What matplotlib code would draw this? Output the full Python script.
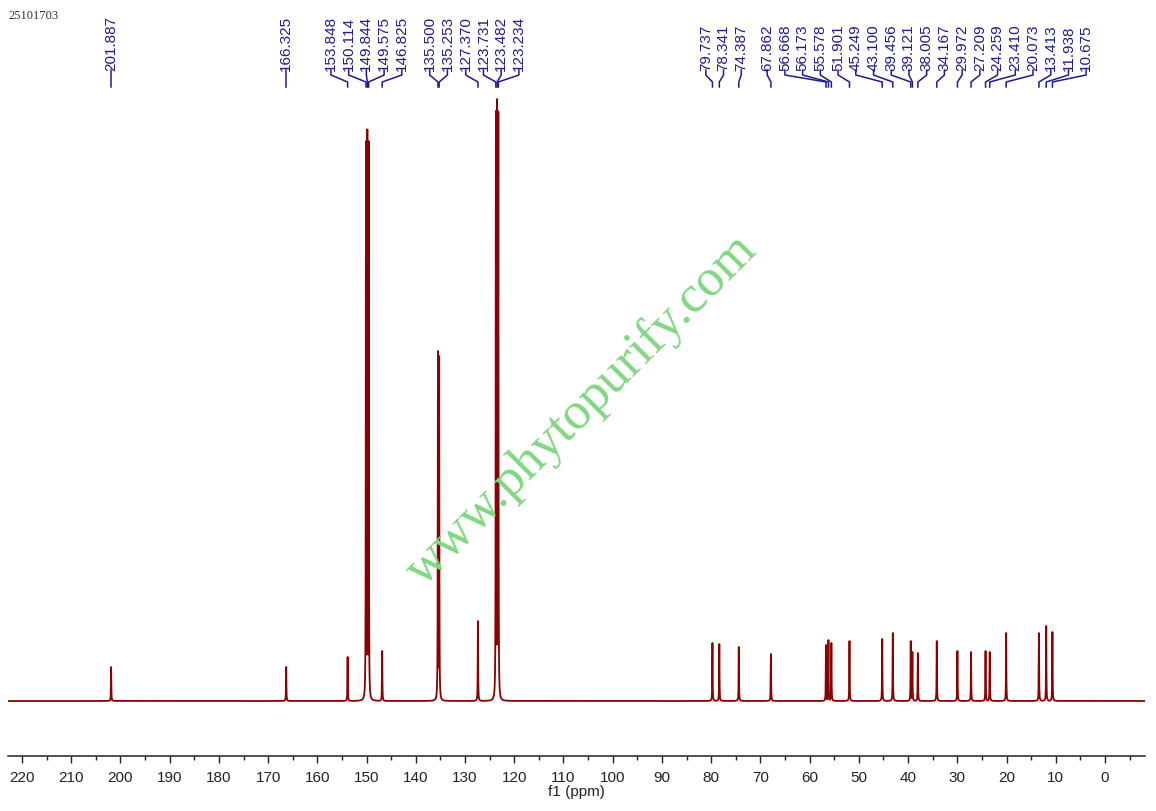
import matplotlib
matplotlib.use("Agg")
import matplotlib.pyplot as plt
import matplotlib.transforms as mtransforms
from matplotlib.ticker import MultipleLocator
import numpy as np

# peak list (ppm) and visible peak heights (arbitrary units)
shifts = [201.887, 166.325, 153.848, 150.114, 149.844, 149.575, 146.825,
          135.500, 135.253, 127.370, 123.731, 123.482, 123.234,
          79.737, 78.341, 74.387, 67.862, 56.668, 56.173, 55.578, 51.901,
          45.249, 43.100, 39.456, 39.121, 38.005, 34.167, 29.972, 27.209,
          24.259, 23.410, 20.073, 13.413, 11.938, 10.675]
heights = [34, 34, 44, 560, 572, 560, 50,
           350, 345, 80, 590, 602, 590,
           58, 57, 54, 47, 56, 61, 58, 60,
           62, 68, 60, 49, 48, 60, 50, 49,
           50, 49, 68, 68, 75, 69]

sample_id = "25101703"
x_ticks = list(range(220, -1, -10))

RED = "#8b0000"
BLUE = "#1c1c8c"
W, H = 1156, 812


def spread_labels(pos, gap):
    # push label positions apart, every crowded group centred on its peaks
    groups = [[p] for p in sorted(pos, reverse=True)]
    merged = True
    while merged:
        merged = False
        for i in range(len(groups) - 1):
            a, b = groups[i], groups[i + 1]
            a_right = np.mean(a) - gap * (len(a) - 1) / 2
            b_left = np.mean(b) + gap * (len(b) - 1) / 2
            if a_right - b_left < gap:
                groups[i] = a + b
                del groups[i + 1]
                merged = True
                break
    out = []
    for g in groups:
        c = np.mean(g)
        n = len(g)
        out += [c + gap * ((n - 1) / 2 - k) for k in range(n)]
    return out


fig = plt.figure(figsize=(W / 100, H / 100), dpi=100)
ax = fig.add_axes([8 / W, 1 - 757 / H, (1145 - 8) / W, 757 / H])

# spectrum built from the peak list (lorentzian lines)
x = np.arange(-8.2, 223.0, 0.003)
y = np.zeros_like(x)
gam = 0.04
for s, h in zip(shifts, heights):
    y = np.maximum(y, h / (1 + ((x - s) / gam) ** 2))
ax.plot(x, y, color=RED, lw=1.3)

ax.set_xlim(222.84, -8.13)
ax.set_ylim(-55, 702)
for side in ["left", "right", "top"]:
    ax.spines[side].set_visible(False)
ax.spines["bottom"].set_color("#222222")
ax.spines["bottom"].set_linewidth(1.1)
ax.set_yticks([])
ax.xaxis.set_major_locator(MultipleLocator(10))
ax.xaxis.set_minor_locator(MultipleLocator(5))
ax.set_xticks(x_ticks)
ax.tick_params(axis="x", which="major", direction="out", length=5, width=1,
               pad=5, labelsize=11, labelcolor="#222222", color="#222222")
ax.tick_params(axis="x", which="minor", direction="out", length=3, width=1,
               color="#222222")
for lab in ax.get_xticklabels():
    lab.set_fontfamily("Liberation Sans")
ax.set_xlabel("f1 (ppm)", fontsize=11, family="Liberation Sans",
              color="#222222", labelpad=0)
ax.patch.set_alpha(0)

# peak labels with connector lines
trans = mtransforms.blended_transform_factory(ax.transData, fig.transFigure)
lab_pos = spread_labels(shifts, 3.6)
fy = lambda py: 1 - py / H
for s, lp in zip(sorted(shifts, reverse=True), lab_pos):
    ax.text(lp, fy(71), "%.3f" % s, rotation=90, ha="center", va="bottom",
            fontsize=11, family="Liberation Sans", color=BLUE,
            transform=trans, clip_on=False)
    ax.plot([lp, lp, s, s], [fy(71), fy(76), fy(83), fy(88)], color=BLUE,
            lw=1.1, transform=trans, clip_on=False)

fig.text(8 / W, fy(16), sample_id, fontsize=9, family="Liberation Serif",
         color="#333333", va="center", ha="left")

# watermark
fig.text(582 / W, fy(410), "www.phytopurify.com", rotation=45,
         fontsize=38, family="Liberation Serif", color="#80d880",
         ha="center", va="center", rotation_mode="anchor", zorder=10)

fig.savefig("out.png", dpi=100)
